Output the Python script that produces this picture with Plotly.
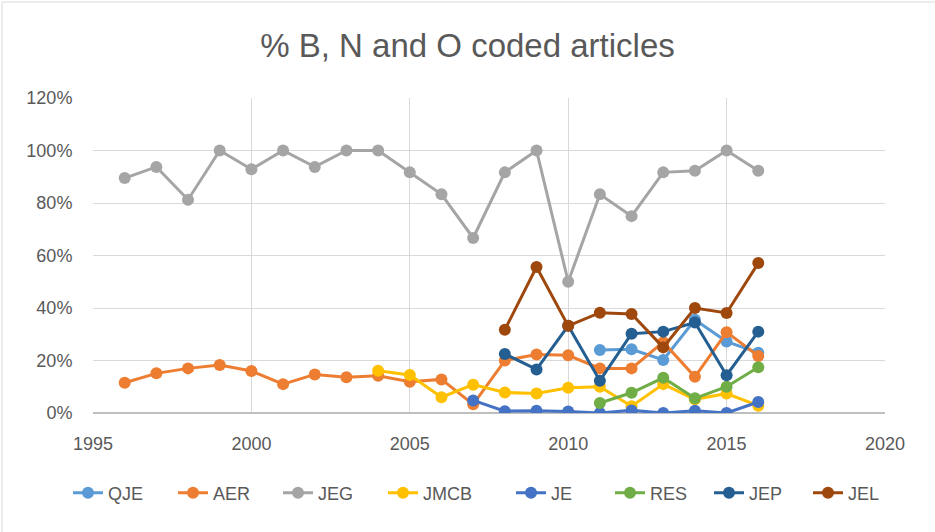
import plotly.graph_objects as go

years = list(range(1996, 2017))
N = None
QJE = [N]*15 + [24.0, 24.3, 20.2, 35.5, 27.2, 23.0]
AER = [11.5, 15.1, 17.0, 18.3, 16.0, 11.0, 14.7, 13.6, 14.2, 11.9, 12.8, 3.3,
       20.0, 22.3, 22.0, 17.0, 17.0, 27.0, 13.8, 30.8, 21.7]
JEG = [89.5, 93.75, 81.25, 100, 92.86, 100, 93.75, 100, 100, 91.67, 83.33, 66.67,
       91.67, 100, 50, 83.33, 75, 91.67, 92.31, 100, 92.31]
JMCB = [N]*8 + [16.1, 14.5, 6.0, 10.8, 7.8, 7.4, 9.6, 10.0, 2.6, 11.0, 5.2, 7.4, 2.8]
JE = [N]*11 + [4.8, 0.7, 0.9, 0.6, 0.0, 1.0, 0.0, 0.9, 0.0, 4.2]
RES = [N]*15 + [3.8, 7.7, 13.4, 5.6, 10.0, 17.4]
JEP = [N]*12 + [22.5, 16.6, 33.2, 12.3, 30.2, 31.0, 34.5, 14.4, 31.0]
JEL = [N]*12 + [31.7, 55.6, 33.2, 38.2, 37.7, 25.0, 40.0, 38.1, 57.1]

series_names = ["QJE", "AER", "JEG", "JMCB", "JE", "RES", "JEP", "JEL"]
series_vals = [QJE, AER, JEG, JMCB, JE, RES, JEP, JEL]
colors = ["#5B9BD5", "#ED7D31", "#A5A5A5", "#FFC000", "#4472C4", "#70AD47", "#255E91", "#9E480E"]

FONT = "Liberation Sans, Arial, sans-serif"
TXT = "#595959"

fig = go.Figure()
for i, (name, vals, c) in enumerate(zip(series_names, series_vals, colors)):
    fig.add_trace(go.Scatter(
        x=years, y=vals, name=name, mode="lines+markers",
        line=dict(color=c, width=3),
        marker=dict(color=c, size=12),
        connectgaps=False,
        legend="legend" if i < 4 else "legend2",
    ))

L, R, T, B = 93, 50, 98, 119
W, H = 935, 532
pw, ph = W - L - R, H - T - B

def px_x(p):
    return (p - L) / pw

def px_y(p):
    return (H - B - p) / ph

def leg(left, ew):
    return dict(orientation="h", xref="container", yref="container",
                x=left / W, xanchor="left",
                y=(H - 493) / H, yanchor="middle",
                font=dict(family=FONT, size=18, color=TXT),
                itemwidth=30, entrywidth=ew, entrywidthmode="pixels",
                tracegroupgap=0, bgcolor="rgba(0,0,0,0)")

fig.update_layout(
    width=W, height=H,
    margin=dict(l=L, r=R, t=T, b=B, pad=0),
    paper_bgcolor="white", plot_bgcolor="white",
    title=dict(text="% B, N and O coded articles", x=0.5, xanchor="center",
               y=1 - 45 / H, yanchor="middle",
               font=dict(family=FONT, size=33, color=TXT)),
    font=dict(family=FONT, size=18, color=TXT),
    xaxis=dict(range=[1995, 2020], dtick=5, tick0=1995, showgrid=True,
               gridcolor="#D9D9D9", gridwidth=1, zeroline=False,
               showline=False, ticks="outside", ticklen=14, tickcolor="rgba(0,0,0,0)",
               tickfont=dict(family=FONT, size=18, color=TXT)),
    yaxis=dict(range=[0, 120], dtick=20, tick0=0, ticksuffix="%",
               showgrid=True, gridcolor="#D9D9D9", gridwidth=1,
               zeroline=True, zerolinecolor="#BFBFBF", zerolinewidth=2,
               showline=False, ticks="outside", ticklen=16, tickcolor="rgba(0,0,0,0)",
               tickfont=dict(family=FONT, size=18, color=TXT)),
    legend=leg(68, 60),
    legend2=leg(511, 54),
    showlegend=True,
    shapes=[dict(type="rect", xref="paper", yref="paper",
                 x0=px_x(2), x1=px_x(960), y0=px_y(560), y1=px_y(2),
                 line=dict(color="#D9D9D9", width=1), fillcolor="rgba(0,0,0,0)",
                 layer="below")],
)

fig.write_html("out.html", config={"displayModeBar": False},
               post_script="document.body.style.margin='0';document.body.style.padding='0';")
